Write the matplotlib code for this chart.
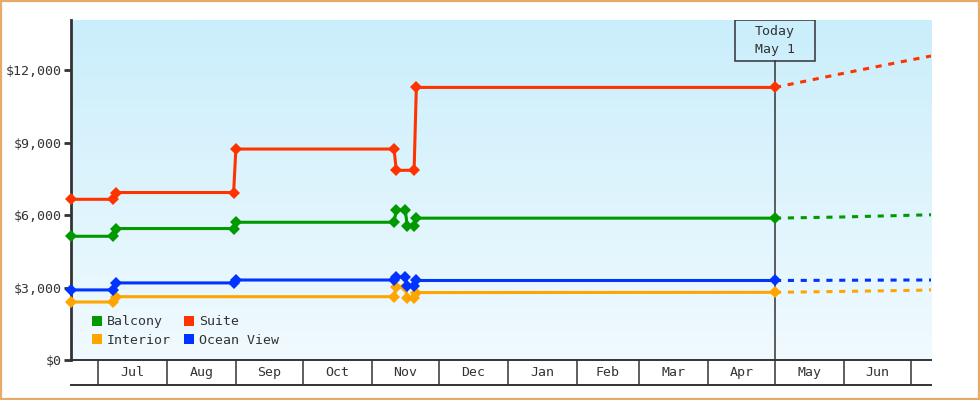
import datetime as dt
import numpy as np
import matplotlib
matplotlib.use('Agg')
import matplotlib.pyplot as plt
import matplotlib.dates as mdates
import matplotlib.transforms as mtrans
from matplotlib.colors import LinearSegmentedColormap
from matplotlib.lines import Line2D
from matplotlib.patches import Rectangle

# price history (one entry per observed change)
step_dates = ['2024-06-19', '2024-07-08', '2024-07-09', '2024-08-31', '2024-09-01',
              '2024-11-11', '2024-11-12', '2024-11-16', '2024-11-17', '2024-11-20',
              '2024-11-21', '2025-05-01']
suite_dates = ['2024-06-19', '2024-07-08', '2024-07-09', '2024-08-31', '2024-09-01',
               '2024-11-11', '2024-11-12', '2024-11-20', '2024-11-21', '2025-05-01']
interior_dates = ['2024-06-19', '2024-07-08', '2024-07-09', '2024-11-11', '2024-11-12',
                  '2024-11-16', '2024-11-17', '2024-11-20', '2024-11-21', '2025-05-01']

suite = [6650, 6650, 6930, 6930, 8730, 8730, 7850, 7850, 11280, 11280]
balcony = [5120, 5120, 5440, 5440, 5700, 5700, 6200, 6200, 5530, 5530, 5870, 5870]
ocean_view = [2900, 2900, 3190, 3190, 3310, 3310, 3440, 3440, 3080, 3080, 3290, 3290]
interior = [2400, 2400, 2620, 2620, 3030, 3030, 2560, 2560, 2790, 2800]

# forecast after today
proj_dates = ['2025-05-01', '2025-06-01', '2025-07-01', '2025-07-10']
suite_proj = [11280, 11870, 12420, 12580]
balcony_proj = [5870, 5920, 5990, 6010]
ocean_proj = [3290, 3300, 3310, 3310]
interior_proj = [2800, 2840, 2880, 2900]

months = ['Jul', 'Aug', 'Sep', 'Oct', 'Nov', 'Dec', 'Jan', 'Feb', 'Mar', 'Apr', 'May', 'Jun']
month_starts = ['2024-07-01', '2024-08-01', '2024-09-01', '2024-10-01', '2024-11-01',
                '2024-12-01', '2025-01-01', '2025-02-01', '2025-03-01', '2025-04-01',
                '2025-05-01', '2025-06-01', '2025-07-01']
yticks = [0, 3000, 6000, 9000, 12000]
today = '2025-05-01'
x_start, x_end = '2024-06-19', '2025-07-10'


def d(s):
    return dt.datetime.strptime(s, '%Y-%m-%d')


def dl(lst):
    return [d(s) for s in lst]


GREEN = '#009a00'
RED = '#ff3300'
ORANGE = '#ffa500'
BLUE = '#0033ff'
INK = '#333333'
MONO = 'DejaVu Sans Mono'

fig = plt.figure(figsize=(9.8, 4), dpi=100)
fig.patches.append(Rectangle((0.001, 0.002), 0.998, 0.996, transform=fig.transFigure,
                             fill=False, edgecolor='#e8aa6a', linewidth=1.6))

L, W = 71 / 980, 860 / 980
ax = fig.add_axes([L, 0.1, W, 0.85])

# sky gradient background
cmap = LinearSegmentedColormap.from_list('sky', ['#f1faff', '#caeefb'])
grad = np.linspace(0, 1, 256).reshape(-1, 1)
ax.imshow(grad, extent=[0, 1, 0, 1], transform=ax.transAxes, cmap=cmap,
          aspect='auto', origin='lower', zorder=0)

series = [
    (suite_dates, suite, suite_proj, RED),
    (step_dates, balcony, balcony_proj, GREEN),
    (interior_dates, interior, interior_proj, ORANGE),
    (step_dates, ocean_view, ocean_proj, BLUE),
]

# today marker line and box
trans = mtrans.blended_transform_factory(ax.transData, ax.transAxes)
tnum = mdates.date2num(d(today))
ax.plot([tnum, tnum], [0, 0.88], color=INK, lw=1.1, transform=trans, zorder=2)
ax.add_patch(Rectangle((tnum - 18, 0.88), 36, 0.12, transform=trans, fill=False,
                       edgecolor=INK, lw=1.1, zorder=2))
ax.text(tnum, 0.94, 'Today\nMay 1', transform=trans, ha='center', va='center',
        fontsize=9.5, family=MONO, color=INK, linespacing=1.45, zorder=5)

for dates, vals, proj, c in series:
    ax.plot(dl(proj_dates), proj, color=c, lw=2.2, linestyle=(0, (2.0, 2.2)), zorder=3)
    ax.plot(dl(dates), vals, color=c, lw=2.2, marker='D', markersize=6.3,
            markeredgewidth=0, zorder=4, clip_on=False)

ax.set_xlim(d(x_start), d(x_end))
ax.set_ylim(0, 14070)
ax.set_yticks(yticks)
ax.set_yticklabels(['${:,}'.format(v) for v in yticks])
ax.set_xticks([])
for s in ['top', 'right']:
    ax.spines[s].set_visible(False)
ax.spines['left'].set_color(INK)
ax.spines['left'].set_linewidth(2)
ax.spines['left'].set_zorder(3.5)
ax.spines['bottom'].set_color(INK)
ax.spines['bottom'].set_linewidth(1.4)
ax.tick_params(axis='y', length=5, width=2, color=INK, pad=2, labelcolor=INK)
for lab in ax.get_yticklabels():
    lab.set_family(MONO)
    lab.set_fontsize(9.5)

handles = [Line2D([], [], ls='none', marker='s', markersize=7.5, markeredgewidth=0, color=c)
           for c in [GREEN, ORANGE, RED, BLUE]]
leg = ax.legend(handles, ['Balcony', 'Interior', 'Suite', 'Ocean View'], ncol=2,
                loc='lower left', bbox_to_anchor=(0.024, 0.038), frameon=False,
                prop={'family': MONO, 'size': 9.5}, handlelength=0.8,
                handletextpad=0.35, columnspacing=1.0, labelspacing=0.45,
                borderpad=0, borderaxespad=0)
for t in leg.get_texts():
    t.set_color(INK)

# month band under the plot
ax2 = fig.add_axes([L, 15 / 400, W, 25 / 400])
ax2.set_xlim(d(x_start), d(x_end))
ax2.set_ylim(0, 1)
ax2.patch.set_alpha(0)
for s in ['left', 'right', 'top']:
    ax2.spines[s].set_visible(False)
ax2.spines['bottom'].set_color(INK)
ax2.spines['bottom'].set_linewidth(1.4)
ax2.set_xticks([])
ax2.set_yticks([])
ms = dl(month_starts)
for m in ms:
    ax2.axvline(m, color=INK, lw=1.1)
for i, name in enumerate(months):
    mid = ms[i] + (ms[i + 1] - ms[i]) / 2
    ax2.text(mid, 0.5, name, ha='center', va='center', fontsize=9.5, family=MONO, color=INK)

fig.savefig('out.png', dpi=100)
